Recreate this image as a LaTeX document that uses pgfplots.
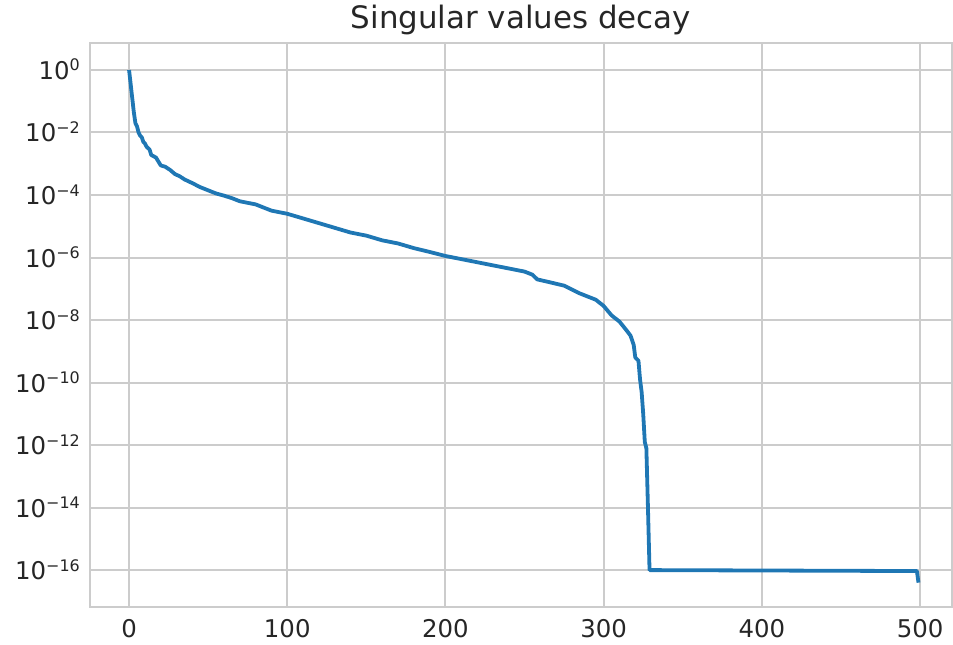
\documentclass[border=0pt]{standalone}
\usepackage{fontspec}
\setmainfont{DejaVu Sans}
\usepackage{pgfplots}
\pgfplotsset{compat=1.18}
\definecolor{sbblue}{RGB}{31,119,180}
\definecolor{gridc}{RGB}{204,204,204}
\definecolor{txt}{RGB}{38,38,38}
\newcommand{\sci}[1]{10\raisebox{8.5bp}{\fontsize{16}{16}\selectfont #1}}
\begin{document}
\begin{tikzpicture}
\begin{semilogyaxis}[
  scale only axis,
  width=862bp, height=564bp,
  xmin=-24.7, xmax=520.2,
  ymin=6.6e-18, ymax=7.3,
  xtick={0,100,200,300,400,500},
  ytick={1e0,1e-2,1e-4,1e-6,1e-8,1e-10,1e-12,1e-14,1e-16},
  yticklabels={\sci{0},\sci{−2},\sci{−4},\sci{−6},\sci{−8},\sci{−10},\sci{−12},\sci{−14},\sci{−16}},
  xticklabels={0,100,200,300,400,500},
  minor tick num=0, xminorticks=false, yminorticks=false,
  major tick length=0pt,
  grid=major,
  major grid style={draw=gridc, line width=2bp},
  axis line style={draw=gridc, line width=2.5bp},
  tick label style={font=\fontsize{24.5}{30}\selectfont, text=txt},
  xticklabel style={anchor=base, yshift=-30bp, inner sep=0pt},
  yticklabel style={anchor=base east, xshift=-10bp, yshift=-9.5bp, inner sep=0pt},
  title={Singular values decay},
  title style={font=\fontsize{31}{36}\selectfont, text=txt, at={(0.5,1)}, anchor=base, yshift=9bp},
  clip=false,
]
\addplot[sbblue, line width=3.8bp, line join=round] coordinates {
(0,1) (1,0.355) (2,0.126) (3,0.0447) (4,0.02) (5,0.0158) (6,0.01) (7,7.94e-3)
(8,7.08e-3) (9,5.01e-3) (10,4.47e-3) (11,3.55e-3) (13,2.82e-3) (14,1.91e-3)
(17,1.58e-3) (20,8.9e-4) (23,7.94e-4) (26,6.31e-4) (29,4.68e-4) (32,3.98e-4)
(35,3.16e-4) (40,2.4e-4) (45,1.78e-4) (50,1.41e-4) (55,1.12e-4) (60,9.55e-5)
(65,7.94e-5) (70,6.31e-5) (75,5.62e-5) (80,5.01e-5) (85,3.98e-5) (90,3.16e-5)
(100,2.51e-5) (110,1.78e-5) (120,1.26e-5) (130,8.91e-6) (140,6.31e-6) (150,5.01e-6)
(160,3.55e-6) (170,2.82e-6) (180,2.0e-6) (190,1.51e-6) (200,1.12e-6) (210,8.91e-7)
(220,7.08e-7) (230,5.62e-7) (240,4.47e-7) (250,3.55e-7) (255,2.82e-7) (258,2.0e-7)
(265,1.66e-7) (275,1.26e-7) (285,7.08e-8) (295,4.47e-8) (300,2.82e-8) (305,1.41e-8)
(310,8.91e-9) (314,5.01e-9) (317,3.16e-9) (319,1.58e-9) (320,6.31e-10) (322,5.01e-10)
(323,1.26e-10) (324,5.01e-11) (325,1e-11) (326,1.26e-12) (327,7.94e-13) (328,1e-14)
(329,1e-16) (498,9.33e-17) (499,3.98e-17)
};
\end{semilogyaxis}
\pgfresetboundingbox
\path[use as bounding box] ([xshift=-90bp,yshift=-38bp]current axis.south west) rectangle ([xshift=1bp,yshift=43bp]current axis.north east);
\end{tikzpicture}
\end{document}
